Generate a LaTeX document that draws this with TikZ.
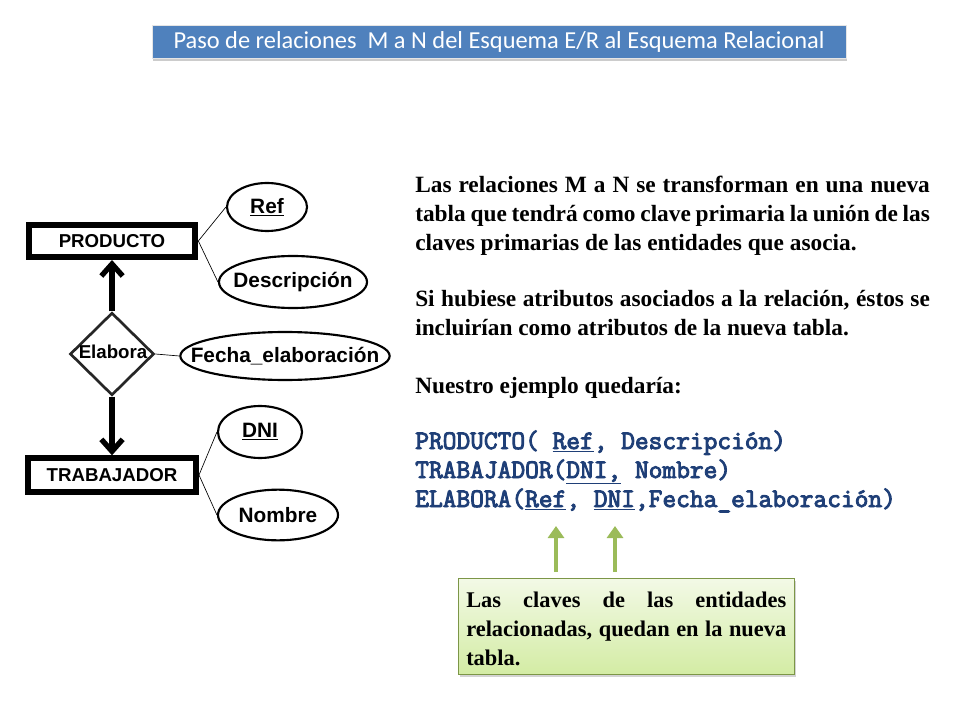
\documentclass[tikz,border=0pt]{standalone}
\usepackage{fontspec}
\setmainfont{Liberation Serif}
\newfontfamily\arialf{Liberation Sans}
\newfontfamily\calib{Carlito}
\newfontfamily\courf[FakeBold=3.5]{Latin Modern Mono}
\usetikzlibrary{shapes.geometric,arrows.meta,shadows}
\definecolor{titleblue}{HTML}{4F81BD}
\definecolor{codeblue}{HTML}{1F3F77}
\definecolor{keygreen}{HTML}{9BBB59}
\definecolor{notetop}{HTML}{F3F9E6}
\definecolor{notebot}{HTML}{D3ECA4}
\tikzset{
  entity/.style={draw, line width=4.5pt, inner sep=0pt, font=\arialf\bfseries\fontsize{14}{16}\selectfont},
  attr/.style={draw, ellipse, line width=1.6pt, inner sep=0pt},
  attrtext/.style={inner sep=0pt, font=\arialf\bfseries\fontsize{15.6}{18}\selectfont},
  link/.style={draw, line width=0.5pt},
  rel/.style={-{Straight Barb[length=9pt,width=16pt,line width=4pt]}, line width=4.5pt},
  para/.style={font=\bfseries\fontsize{17.5}{21.75}\selectfont, inner sep=0pt, anchor=base west},
  notepara/.style={font=\bfseries\fontsize{16.8}{21.75}\selectfont, inner sep=0pt, anchor=base west},
  codeline/.style={font=\courf\fontsize{20}{22}\selectfont, text=codeblue, anchor=base west, inner sep=0pt},
  greenarrow/.style={-{Triangle[length=9pt,width=12pt]}, line width=3pt, draw=keygreen}
}
\newcommand{\jpar}[2]{\parbox[t]{#1}{\hyphenpenalty=10000\exhyphenpenalty=10000\rightskip=0pt\relax #2}}
\begin{document}
\begin{tikzpicture}[x=0.75pt,y=-0.75pt]
\useasboundingbox (0,0) rectangle (960,720);
% title
\node[draw=white!80!gray, fill=titleblue, drop shadow={shadow xshift=1pt, shadow yshift=-2pt, opacity=0.4}, minimum width=520.5pt, minimum height=24.75pt, inner sep=0pt, text=white, font=\calib\fontsize{18.3}{20}\selectfont] (title) at (499,42) {Paso de relaciones\ \ M a N del Esquema E/R al Esquema Relacional};
% entities
\node[entity, minimum width=125pt, minimum height=24pt] (prod) at (112,241) {PRODUCTO};
\node[entity, minimum width=126pt, minimum height=25pt] (trab) at (112,475) {TRABAJADOR};
\node[draw=black!85, diamond, line width=2pt, minimum width=63pt, minimum height=62pt, inner sep=0pt] (elab) at (112,354) {};
\node[font=\arialf\bfseries\fontsize{14}{16}\selectfont, inner sep=0pt] (elabl) at (113,352) {Elabora};
% attributes
\node[attr, minimum width=60pt, minimum height=36pt] (ref) at (267,207) {};
\node[attrtext] (reft) at (267,207) {\underline{Ref}};
\node[attr, minimum width=111pt, minimum height=39pt] (desc) at (293,282) {};
\node[attrtext] (desct) at (293,282) {Descripción};
\node[attr, minimum width=157pt, minimum height=36pt] (fecha) at (285,356) {};
\node[attrtext] (fechat) at (285,356) {Fecha\_elaboración};
\node[attr, minimum width=63pt, minimum height=39pt] (dni) at (260,432) {};
\node[attrtext] (dnit) at (260,432) {\underline{DNI}};
\node[attr, minimum width=90pt, minimum height=38pt] (nom) at (278,515) {};
\node[attrtext] (nomt) at (278,515) {Nombre};
% links
\draw[link] (prod.east) -- (ref.west);
\draw[link] (prod.east) -- (desc.west);
\draw[link] (elab.east) -- (fecha.west);
\draw[link] (trab.east) -- (dni.west);
\draw[link] (trab.east) -- (nom.west);
% relationship arrows
\draw[rel] (elab.north) -- (prod.south);
\draw[rel] (elab.south) -- (trab.north);
% paragraphs
\node[para] (p1) at (415,193) {\jpar{386pt}{Las relaciones M a N se transforman en una nueva tabla que tendrá como clave primaria la unión de las claves primarias de las entidades que asocia.}};
\node[para] (p2) at (415,306) {\jpar{386pt}{Si hubiese atributos asociados a la relación, éstos se incluirían como atributos de la nueva tabla.}};
\node[para] (p3) at (415,393) {Nuestro ejemplo quedaría:};
% code
\node[codeline] (c1) at (415,449) {PRODUCTO(\ \underline{Ref}, Descripción)};
\node[codeline] (c2) at (415,478) {TRABAJADOR(\underline{DNI,} Nombre)};
\node[codeline] (c3) at (415,507) {ELABORA(\underline{Ref}, \underline{DNI},Fecha\_elaboración)};
% note
\node[draw=keygreen!80!black, line width=0.5pt, top color=notetop, bottom color=notebot, drop shadow={shadow xshift=1pt, shadow yshift=-2pt, opacity=0.35}, minimum width=252pt, minimum height=72pt, inner sep=0pt] (note) at (626.5,626.5) {};
\node[notepara] (notetext) at (466,607) {\jpar{240pt}{Las claves de las entidades relacionadas, quedan en la nueva tabla.}};
\coordinate (k1) at (556,526);
\coordinate (k2) at (615,526);
\draw[greenarrow] (556,572) -- (k1);
\draw[greenarrow] (615,572) -- (k2);
\end{tikzpicture}
\end{document}
